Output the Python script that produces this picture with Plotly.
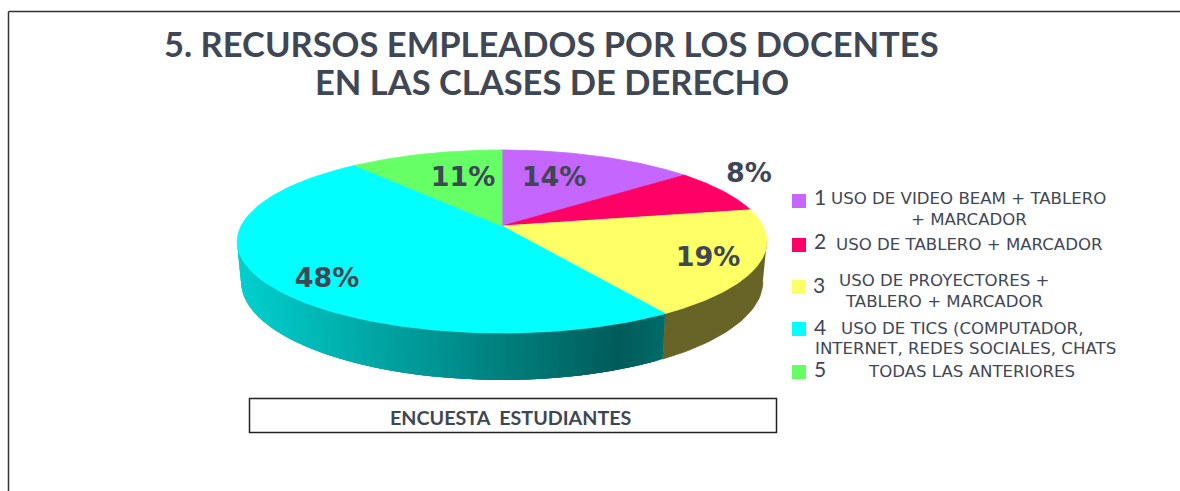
import numpy as np
import plotly.graph_objects as go

# ---- data ----
categories = ["1", "2", "3", "4", "5"]
values = [14, 8, 19, 48, 11]
legend_lines = [
    ["USO DE VIDEO BEAM + TABLERO", "+ MARCADOR"],
    ["USO DE TABLERO + MARCADOR"],
    ["USO DE PROYECTORES +", "TABLERO + MARCADOR"],
    ["USO DE TICS (COMPUTADOR,", "INTERNET, REDES SOCIALES, CHATS"],
    ["TODAS LAS ANTERIORES"],
]
title_lines = ["5. RECURSOS EMPLEADOS POR LOS DOCENTES", "EN LAS CLASES DE DERECHO"]
caption = "ENCUESTA  ESTUDIANTES"

# ---- styling and layout ----
colors = ["#C566FF", "#FF0066", "#FFFF66", "#00FFFF", "#66FF66"]
TEXT = "#3F4755"
CX, CY, RX, AY, C, DEPTH, BOTTOM_X = 502, 226, 261, 88.9, 0.169, 39, 0.985
label_pos = [(554, 179), (749, 175), (708, 259), (327, 280), (463, 179)]
swatch_pos = [(799, 201), (799, 245), (799, 287), (799, 329), (799, 372)]
number_pos = [(820, 200), (820, 244), (819, 288), (820, 330), (820, 372)]
line_pos = [[(968, 198), (969, 219)], [(969, 244)], [(944, 280), (944, 301)],
            [(962, 328), (965, 348)], [(971, 371)]]
title_pos = [(551, 43), (552, 81)]


def rim(theta_deg, bottom=False):
    t = np.radians(theta_deg)
    u, v = np.sin(t), np.cos(t)
    den = 1 + C * v
    x = RX * u / den
    y = CY - AY * v / den
    if bottom:
        x = x * BOTTOM_X
        y = y + DEPTH / den
    return CX + x, y


fig = go.Figure()


def poly(x, y, color, lw=0.8):
    fig.add_trace(go.Scatter(x=x, y=y, mode="lines", fill="toself", fillcolor=color,
                             line=dict(color=color, width=lw), hoverinfo="skip",
                             showlegend=False))


edges = np.concatenate([[0], np.cumsum(values)]) * 3.6
left_sil = 360 - (90 + np.degrees(np.arcsin(C)))
right_sil = 90 + np.degrees(np.arcsin(C))

# side wall: yellow slice
th = np.linspace(right_sil, edges[3], 30)
xt, yt = rim(th)
xb, yb = rim(th[::-1], True)
poly(np.r_[xt, xb], np.r_[yt, yb], "#686428")

# side wall: cyan slice with horizontal shading; each strip overlaps the next
steps = np.linspace(edges[3], left_sil, 141)
x0 = rim(left_sil)[0]
x1 = rim(edges[3])[0]
for i in range(len(steps) - 1):
    a = steps[i]
    b = steps[min(i + 3, len(steps) - 1)]
    th = np.linspace(a, b, 5)
    xt, yt = rim(th)
    xb, yb = rim(th[::-1], True)
    f = (rim(steps[i])[0] - x0) / (x1 - x0)
    g = 208 - 116 * min(f / 0.9, 1) + (14 * max(f - 0.9, 0) / 0.1)
    col = f"rgb(0,{g:.0f},{g - 2:.0f})"
    poly(np.r_[xt, xb], np.r_[yt, yb], col, lw=0)

# top face
for i, col in enumerate(colors):
    th = np.linspace(edges[i], edges[i + 1], 120)
    xt, yt = rim(th)
    poly(np.r_[CX, xt, CX], np.r_[CY, yt, CY], col)

# value labels
fig.add_trace(go.Scatter(
    x=[p[0] for p in label_pos], y=[p[1] for p in label_pos],
    text=[f"{v}%" for v in values], mode="text", hoverinfo="skip", showlegend=False,
    textposition="middle center",
    textfont=dict(family="DejaVu Sans", size=27, color=TEXT, weight="bold")))

# legend swatches and numbers
fig.add_trace(go.Scatter(
    x=[p[0] for p in swatch_pos], y=[p[1] for p in swatch_pos], mode="markers",
    marker=dict(symbol="square", size=14, color=colors, line=dict(width=0)),
    hoverinfo="skip", showlegend=False))
fig.add_trace(go.Scatter(
    x=[p[0] for p in number_pos], y=[p[1] for p in number_pos], text=categories,
    mode="text", hoverinfo="skip", showlegend=False, textposition="middle center",
    textfont=dict(family="Lato", size=21, color=TEXT)))

annotations = []
for lines, poss in zip(legend_lines, line_pos):
    for s, (x, y) in zip(lines, poss):
        annotations.append(dict(x=x, y=y, text=s, showarrow=False, xanchor="center",
                                yanchor="middle",
                                font=dict(family="DejaVu Sans", size=16.6, color=TEXT)))
for s, (x, y) in zip(title_lines, title_pos):
    annotations.append(dict(x=x, y=y, text=f"<b>{s}</b>", showarrow=False, xanchor="center",
                            yanchor="middle", font=dict(family="Lato", size=34.5, color=TEXT)))
annotations.append(dict(x=511, y=417, text=f"<b>{caption.replace('  ', '&nbsp;&nbsp;')}</b>",
                        showarrow=False, xanchor="center", yanchor="middle",
                        font=dict(family="Lato", size=19.7, color=TEXT)))

shapes = [
    dict(type="rect", x0=249.5, x1=776.5, y0=398.5, y1=432.5,
         line=dict(color="#222222", width=1.5), fillcolor="rgba(0,0,0,0)"),
    dict(type="line", x0=8.5, x1=8.5, y0=11.5, y1=491, line=dict(color="#333333", width=1.5)),
    dict(type="line", x0=8.5, x1=1180, y0=11.5, y1=11.5, line=dict(color="#333333", width=1.5)),
]

fig.update_layout(
    width=1180, height=491, margin=dict(l=0, r=0, t=0, b=0),
    paper_bgcolor="white", plot_bgcolor="white", showlegend=False,
    xaxis=dict(range=[0, 1180], visible=False, fixedrange=True),
    yaxis=dict(range=[491, 0], visible=False, fixedrange=True),
    annotations=annotations, shapes=shapes,
)
fig.write_html("out.html", config=dict(displayModeBar=False),
               post_script="document.body.style.margin='0';document.body.style.overflow='hidden';")
